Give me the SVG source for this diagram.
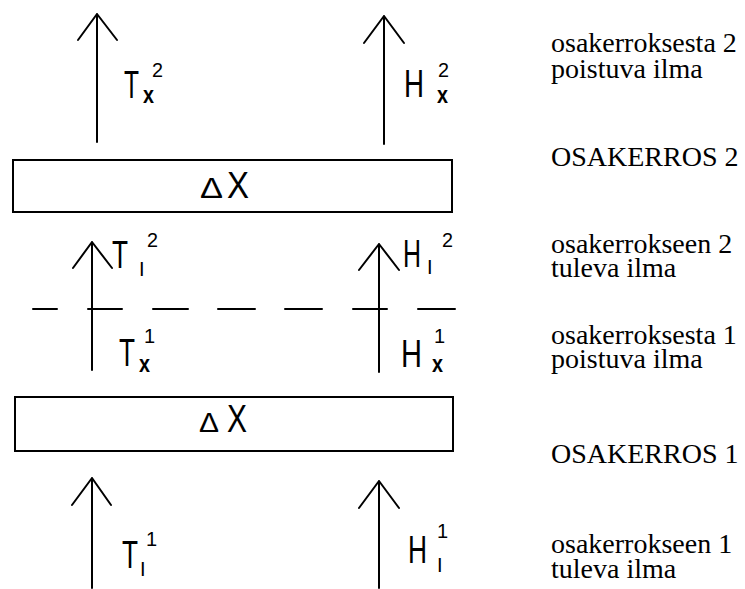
<svg xmlns="http://www.w3.org/2000/svg" width="745" height="589" viewBox="0 0 745 589">
<style>
.ln{stroke:#000;stroke-width:2;fill:none;stroke-linecap:round;stroke-linejoin:round}
.box{stroke:#000;stroke-width:2;fill:#fff}
.sym{font-family:"Liberation Sans","DejaVu Sans",sans-serif;fill:#000}
.big{font-size:39px}
.sub{font-size:24px;font-weight:bold}
.sup{font-size:20px}
.subi{font-size:20px}
.lab{font-family:"Liberation Serif","Times New Roman",serif;font-size:28px;fill:#000}
</style>
<rect width="745" height="589" fill="#fff"/>
<g id="connectors">
<path class="ln" d="M97 142V14M78 40L97 14L117 40"/>
<path class="ln" d="M384 144V16M364 43L384 16L404 43"/>
<path class="ln" d="M92 370V242M73 268L92 242L112 268"/>
<path class="ln" d="M379 372V244M359 270L379 244L399 270"/>
<path class="ln" d="M92 588V478M72 505L92 478L111 505"/>
<path class="ln" d="M379 588V481M359 508L379 481L399 508"/>
<path class="ln" d="M33 309H57M88 309H122M153 309H188M218 309H255M285 309H322M353 309H387M418 309H455"/>
</g>
<g id="layer2">
<rect class="box" x="13" y="160" width="439" height="52"/>
<text class="sym"><tspan x="200" y="198" font-size="29" textLength="23" lengthAdjust="spacingAndGlyphs">Δ</tspan><tspan x="227" y="198" font-size="36" textLength="22" lengthAdjust="spacingAndGlyphs">X</tspan></text>
</g>
<g id="layer1">
<rect class="box" x="15" y="397" width="438" height="54"/>
<text class="sym"><tspan x="199" y="432" font-size="28" textLength="20" lengthAdjust="spacingAndGlyphs">Δ</tspan><tspan x="227" y="432" font-size="39" textLength="20" lengthAdjust="spacingAndGlyphs">X</tspan></text>
</g>
<g id="label-Tx2">
<text class="sym"><tspan class="big" x="124" y="98" textLength="15" lengthAdjust="spacingAndGlyphs">T</tspan><tspan class="sub" x="143" y="103" textLength="11" lengthAdjust="spacingAndGlyphs">x</tspan><tspan class="sup" x="152" y="77" textLength="11" lengthAdjust="spacingAndGlyphs">2</tspan></text>
</g>
<g id="label-Hx2">
<text class="sym"><tspan class="big" x="404" y="97" textLength="20" lengthAdjust="spacingAndGlyphs">H</tspan><tspan class="sub" x="437" y="103" textLength="11" lengthAdjust="spacingAndGlyphs">x</tspan><tspan class="sup" x="438" y="77" textLength="11" lengthAdjust="spacingAndGlyphs">2</tspan></text>
</g>
<g id="label-TI2">
<text class="sym"><tspan class="big" x="112" y="268" textLength="16" lengthAdjust="spacingAndGlyphs">T</tspan><tspan class="subi" x="139" y="276">I</tspan><tspan class="sup" x="147" y="247" textLength="11" lengthAdjust="spacingAndGlyphs">2</tspan></text>
</g>
<g id="label-HI2">
<text class="sym"><tspan class="big" x="403" y="267" textLength="18" lengthAdjust="spacingAndGlyphs">H</tspan><tspan class="subi" x="427" y="274">I</tspan><tspan class="sup" x="442" y="247" textLength="11" lengthAdjust="spacingAndGlyphs">2</tspan></text>
</g>
<g id="label-Tx1">
<text class="sym"><tspan class="big" x="119" y="366" textLength="16" lengthAdjust="spacingAndGlyphs">T</tspan><tspan class="sub" x="139" y="372" textLength="11" lengthAdjust="spacingAndGlyphs">x</tspan><tspan class="sup" x="144" y="343">1</tspan></text>
</g>
<g id="label-Hx1">
<text class="sym"><tspan class="big" x="401" y="367" textLength="21" lengthAdjust="spacingAndGlyphs">H</tspan><tspan class="sub" x="432" y="372" textLength="11" lengthAdjust="spacingAndGlyphs">x</tspan><tspan class="sup" x="434" y="343">1</tspan></text>
</g>
<g id="label-TI1">
<text class="sym"><tspan class="big" x="122" y="568" textLength="16" lengthAdjust="spacingAndGlyphs">T</tspan><tspan class="subi" x="140" y="576">I</tspan><tspan class="sup" x="146" y="546">1</tspan></text>
</g>
<g id="label-HI1">
<text class="sym"><tspan class="big" x="408" y="563" textLength="19" lengthAdjust="spacingAndGlyphs">H</tspan><tspan class="subi" x="437" y="572">I</tspan><tspan class="sup" x="437" y="538">1</tspan></text>
</g>
<g id="texts">
<text class="lab" x="551" y="52">osakerroksesta 2</text>
<text class="lab" x="551" y="78">poistuva ilma</text>
<text class="lab" x="551" y="166">OSAKERROS 2</text>
<text class="lab" x="551" y="253">osakerrokseen 2</text>
<text class="lab" x="551" y="277">tuleva ilma</text>
<text class="lab" x="551" y="344">osakerroksesta 1</text>
<text class="lab" x="551" y="368">poistuva ilma</text>
<text class="lab" x="551" y="463">OSAKERROS 1</text>
<text class="lab" x="551" y="553">osakerrokseen 1</text>
<text class="lab" x="551" y="578">tuleva ilma</text>
</g>
</svg>
